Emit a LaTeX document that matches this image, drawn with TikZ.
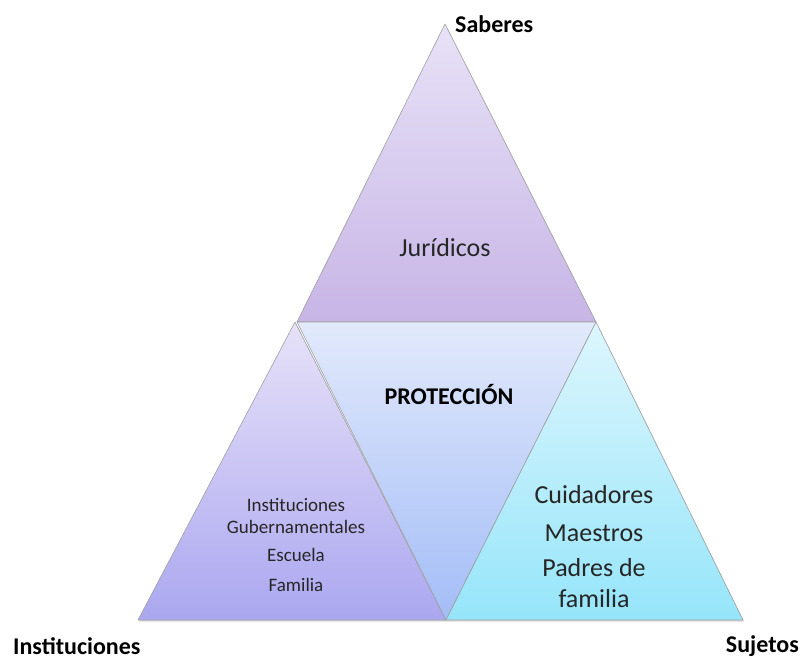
\documentclass[tikz,border=0pt]{standalone}
\usepackage{fontspec}
\setmainfont{Carlito}
\usetikzlibrary{shadows}

\definecolor{topA}{HTML}{E8E2F7}
\definecolor{topB}{HTML}{C7B5E6}
\definecolor{midA}{HTML}{E2E9FB}
\definecolor{midB}{HTML}{A3BDF7}
\definecolor{lefA}{HTML}{E7E2F8}
\definecolor{lefB}{HTML}{ABA7F0}
\definecolor{rigA}{HTML}{DDF6FD}
\definecolor{rigB}{HTML}{96E5FA}
\definecolor{txt}{HTML}{262626}

\begin{document}
\begin{tikzpicture}[x=1pt,y=-1pt,
  tri/.style={draw=gray!75, line width=0.6pt, line join=round,
    drop shadow={opacity=0.3, shadow xshift=1pt, shadow yshift=-1.5pt}},
  big/.style={font=\bfseries\fontsize{24}{29}\selectfont, text=black, inner sep=0pt},
  inner/.style={font=\fontsize{26}{31}\selectfont, text=txt, align=center},
  small/.style={font=\fontsize{19}{22}\selectfont, text=txt, align=center}]

\useasboundingbox (0,0) rectangle (803,660);

% vertices
\coordinate (s)  at (445,24);
\coordinate (a)  at (297,322);
\coordinate (b)  at (596,322);
\coordinate (la) at (295,322);
\coordinate (l)  at (138,620);
\coordinate (m)  at (446,620);
\coordinate (r)  at (743,620);

% triangles
\shade[tri, top color=topA, bottom color=topB] (s) -- (b) -- (a) -- cycle;
\shade[tri, top color=lefA, bottom color=lefB] (la) -- (m) -- (l) -- cycle;
\shade[tri, top color=midA, bottom color=midB] (a) -- (b) -- (m) -- cycle;
\shade[tri, top color=rigA, bottom color=rigB] (b) -- (r) -- (m) -- cycle;

% texts
\node[inner] (jur) at (445,248) {Jurídicos};
\node[big]   (pro) at (449,395) {PROTECCIÓN};

\node[small] (ins) at (296,516) {Instituciones\\Gubernamentales};
\node[small] (esc) at (296,555) {Escuela};
\node[small] (fam) at (296,585) {Familia};

\node[inner] (cui) at (594,495) {Cuidadores};
\node[inner] (mae) at (594,533) {Maestros};
\node[inner] (pad) at (594,583) {Padres de\\familia};

\node[big, anchor=west] (sab) at (455,24) {Saberes};
\node[big, anchor=west] (inst) at (13,646) {Instituciones};
\node[big, anchor=east] (suj)  at (799,646) {Sujetos};

\end{tikzpicture}
\end{document}
